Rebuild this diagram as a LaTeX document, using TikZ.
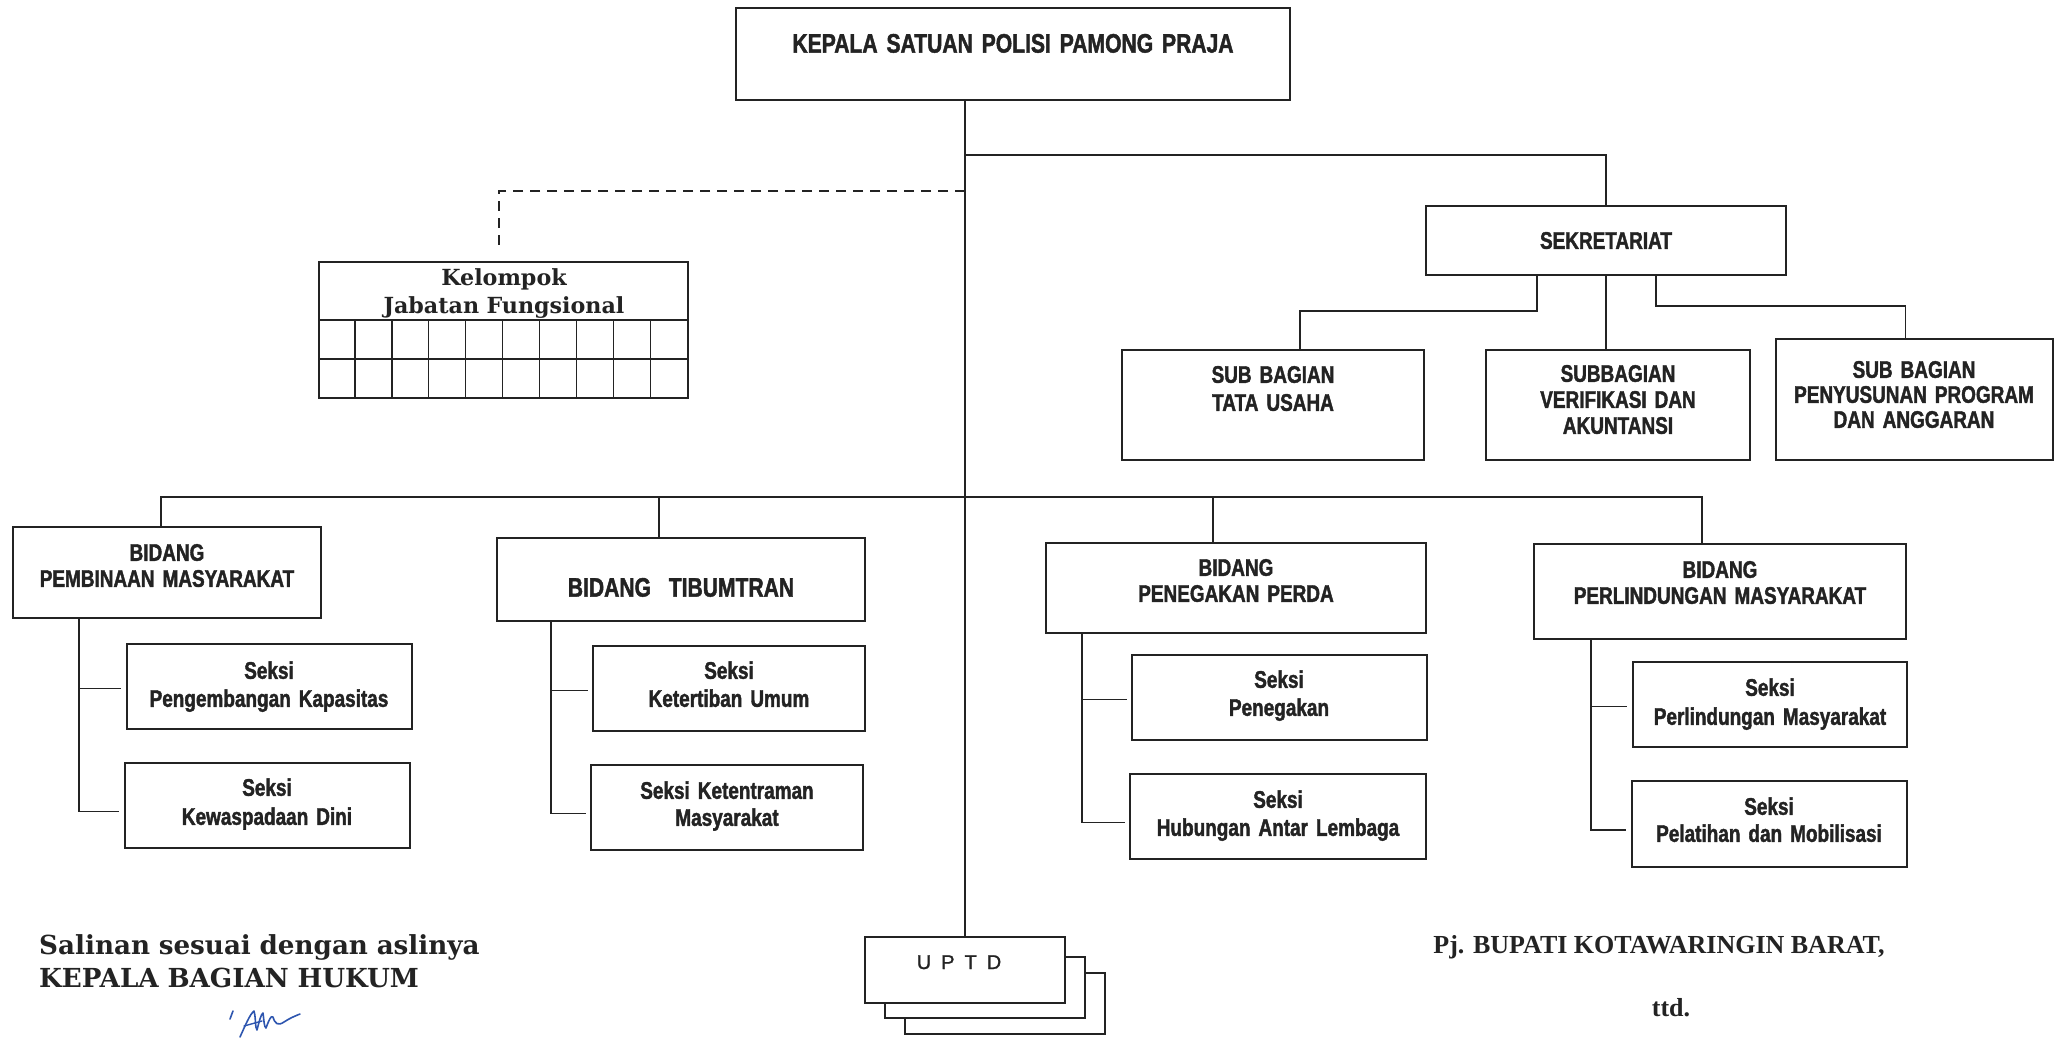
\documentclass[tikz,border=0pt]{standalone}
\usepackage{fontspec}
\newfontfamily\arialf{Liberation Sans Bold}[FakeStretch=0.79,FakeBold=1.6,WordSpace=0.8]
\newfontfamily\uptdf{Liberation Sans}[LetterSpace=50,FakeBold=1.2]
\newfontfamily\timesf{Liberation Serif}
\newfontfamily\bookf{DejaVu Serif}
\usetikzlibrary{fit,calc}
\definecolor{ink}{RGB}{35,35,35}
\definecolor{sig}{RGB}{45,85,175}
\newcommand\mkbox[5]{\coordinate (#1-a) at (#2,#3); \coordinate (#1-b) at (#4,#5); \node[box,fit=(#1-a)(#1-b)] (#1) {};}
\begin{document}
\begin{tikzpicture}[x=1pt,y=-1pt,
  box/.style={draw=ink,line width=1.8pt,inner sep=0pt,fill=white,rectangle},
  ln/.style={draw=ink,line width=1.7pt},
  thin/.style={draw=ink,line width=1.3pt},
  lbl/.style={inner sep=0pt,anchor=base,align=center,text width=380pt,text=ink},
  sp/.style={font={\arialf\fontsize{24}{#1}\selectfont}},
  serifhead/.style={inner sep=0pt,text=ink,font={\bookf\bfseries\fontsize{26.2}{33}\selectfont}},
]
\fill[white] (0,0) rectangle (2058,1037);
\useasboundingbox (0,0) rectangle (2058,1037);

% boxes
\mkbox{kepala}{736}{8}{1290}{100}
\mkbox{sek}{1426}{206}{1786}{275}
\mkbox{tu}{1122}{350}{1424}{460}
\mkbox{ver}{1486}{350}{1750}{460}
\mkbox{pen}{1776}{339}{2053}{460}
\mkbox{bd1}{13}{527}{321}{618}
\mkbox{bd2}{497}{538}{865}{621}
\mkbox{bd3}{1046}{543}{1426}{633}
\mkbox{bd4}{1534}{544}{1906}{639}
\mkbox{s11}{127}{644}{412}{729}
\mkbox{s12}{125}{763}{410}{848}
\mkbox{s21}{593}{646}{865}{731}
\mkbox{s22}{591}{765}{863}{850}
\mkbox{s31}{1132}{655}{1427}{740}
\mkbox{s32}{1130}{774}{1426}{859}
\mkbox{s41}{1633}{662}{1907}{747}
\mkbox{s42}{1632}{781}{1907}{867}
\mkbox{kel}{319}{262}{688}{320}
\mkbox{kelg}{319}{320}{688}{398}
\mkbox{uptd3}{905}{973}{1105}{1034}
\mkbox{uptd2}{885}{957}{1085}{1018}
\mkbox{uptd1}{865}{937}{1065}{1003}

% grid of Kelompok
\foreach \i in {1,...,9} {\draw[thin] ($(kelg.north west)+(\i*36.9,0)$) -- ($(kelg.south west)+(\i*36.9,0)$);}
\draw[thin] (kelg.west) -- (kelg.east);

% helper coordinates on the boxes
\coordinate (d1) at ([xshift=-6pt]bd1.north);
\coordinate (d2) at ([xshift=-22pt]bd2.north);
\coordinate (d3) at ([xshift=-23pt]bd3.north);
\coordinate (d4) at ([xshift=-18pt]bd4.north);
\coordinate (v1) at ([xshift=67pt]bd1.south west);
\coordinate (v2) at ([xshift=55pt]bd2.south west);
\coordinate (v3) at ([xshift=37pt]bd3.south west);
\coordinate (v4) at ([xshift=58pt]bd4.south west);
\coordinate (e11) at ([xshift=-5pt,yshift=-2pt]s11.west);
\coordinate (e12) at ([xshift=-5pt,yshift=-6pt]s12.west);
\coordinate (e21) at ([xshift=-4pt,yshift=-2pt]s21.west);
\coordinate (e22) at ([xshift=-4pt,yshift=-6pt]s22.west);
\coordinate (e31) at ([xshift=-4pt,yshift=-2pt]s31.west);
\coordinate (e32) at ([xshift=-4pt,yshift=-6pt]s32.west);
\coordinate (e41) at ([xshift=-5pt,yshift=-2pt]s41.west);
\coordinate (e42) at ([xshift=-5pt,yshift=-6pt]s42.west);

% connectors
\draw[ln] (kepala.south -| uptd1.north) -- (uptd1.north);
\coordinate (j1) at (965,155);
\coordinate (j2) at (965,191);
\coordinate (j3) at (965,497);
\draw[ln] (j1) -| (sek.north);
\draw[ln,dash pattern=on 10pt off 7pt] (j2) -| ([xshift=-4.5pt,yshift=10pt]kel.north);
\draw[ln] ([xshift=-69pt]sek.south) |- ([xshift=27pt,yshift=38pt]tu.north) -- ([xshift=27pt]tu.north);
\draw[ln] (sek.south) -- (sek.south |- ver.north);
\draw[ln] ([xshift=50pt]sek.south) |- ([xshift=-9pt,yshift=32pt]pen.north) -- ([xshift=-9pt]pen.north);

\draw[ln] (d1) |- (j3) -| (d4);
\draw[ln] (j3 -| d2) -- (d2);
\draw[ln] (j3 -| d3) -- (d3);

\draw[ln] (v1) |- (e12);  \draw[ln] (e11 -| v1) -- (e11);
\draw[ln] (v2) |- (e22);  \draw[ln] (e21 -| v2) -- (e21);
\draw[ln] (v3) |- (e32);  \draw[ln] (e31 -| v3) -- (e31);
\draw[ln] (v4) |- (e42);  \draw[ln] (e41 -| v4) -- (e41);

% labels
\node[lbl,font={\arialf\fontsize{26.7}{30}\selectfont},text width=540pt] (kepala-t) at (1013,52.6) {KEPALA SATUAN POLISI PAMONG PRAJA};
\node[lbl,sp=24] (sek-t) at (1606,248.8) {SEKRETARIAT};
\node[lbl,sp=28] (tu-t) at (1273,382.8) {SUB BAGIAN\\TATA USAHA};
\node[lbl,sp=26] (ver-t) at (1618,381.8) {SUBBAGIAN\\VERIFIKASI DAN\\AKUNTANSI};
\node[lbl,sp=25] (pen-t) at (1914,377.8) {SUB BAGIAN\\PENYUSUNAN PROGRAM\\DAN ANGGARAN};
\node[lbl,sp=26] (bd1-t) at (167,560.8) {BIDANG\\PEMBINAAN MASYARAKAT};
\node[lbl,font={\arialf\fontsize{26.7}{30}\selectfont}] (bd2-t) at (681,596.6) {BIDANG\ \ TIBUMTRAN};
\node[lbl,sp=26] (bd3-t) at (1236,575.8) {BIDANG\\PENEGAKAN PERDA};
\node[lbl,sp=26] (bd4-t) at (1720,577.8) {BIDANG\\PERLINDUNGAN MASYARAKAT};
\node[lbl,sp=28] (s11-t) at (269,678.8) {Seksi\\Pengembangan Kapasitas};
\node[lbl,sp=29] (s12-t) at (267,795.8) {Seksi\\Kewaspadaan Dini};
\node[lbl,sp=28] (s21-t) at (729,678.8) {Seksi\\Ketertiban Umum};
\node[lbl,sp=27] (s22-t) at (727,798.8) {Seksi Ketentraman\\Masyarakat};
\node[lbl,sp=28] (s31-t) at (1279,687.8) {Seksi\\Penegakan};
\node[lbl,sp=28] (s32-t) at (1278,807.8) {Seksi\\Hubungan Antar Lembaga};
\node[lbl,sp=29] (s41-t) at (1770,695.8) {Seksi\\Perlindungan Masyarakat};
\node[lbl,sp=27] (s42-t) at (1769,814.8) {Seksi\\Pelatihan dan Mobilisasi};
\node[lbl,font={\bookf\bfseries\fontsize{22.2}{28}\selectfont}] (kel-t) at (504,285) {Kelompok\\Jabatan Fungsional};
\node[lbl,font={\uptdf\fontsize{20}{22}\selectfont}] (uptd-t) at (959,969) {UPTD};

\node[serifhead,anchor=base west,align=left,text width=700pt] (salinan) at (39,954) {Salinan sesuai dengan aslinya\\KEPALA BAGIAN HUKUM};
\node[inner sep=0pt,text=ink,anchor=base,font={\timesf\bfseries\fontsize{26}{30}\selectfont}] (bupati) at (1659,953.6) {Pj. BUPATI KOTAWARINGIN BARAT,};
\node[inner sep=0pt,text=ink,anchor=base,font={\timesf\bfseries\fontsize{26}{30}\selectfont}] (ttd) at (1671,1016.6) {ttd.};

% signature
\draw[sig,line width=1.6pt,line cap=round] (233,1011) -- (230,1019);
\draw[sig,line width=1.6pt,line cap=round,line join=round]
  (240,1037) .. controls (245,1026) and (250,1014) .. (254,1011)
  .. controls (256,1018) and (255,1028) .. (257,1030)
  .. controls (259,1022) and (261,1014) .. (263,1013)
  .. controls (264,1020) and (264,1027) .. (266,1028)
  .. controls (269,1020) and (271,1015) .. (273,1017)
  .. controls (275,1024) and (278,1026) .. (284,1022)
  .. controls (290,1018) and (295,1016) .. (300,1014);
\draw[sig,line width=1.4pt,line cap=round] (244,1026) -- (262,1021);
\end{tikzpicture}
\end{document}
